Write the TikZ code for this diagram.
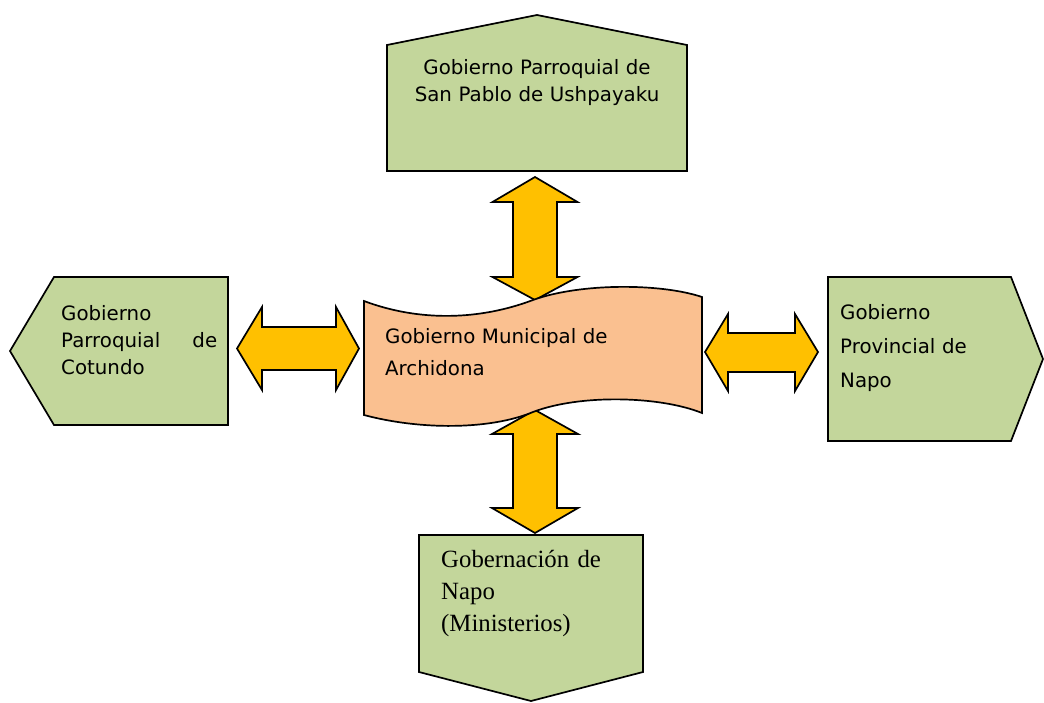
\documentclass[tikz,border=0pt]{standalone}
\usepackage{fontspec}
\setmainfont{Liberation Serif}
\newfontfamily\boxfont{DejaVu Sans}

\definecolor{boxgreen}{HTML}{C3D69B}
\definecolor{wavepeach}{HTML}{FAC090}
\definecolor{arrowyellow}{HTML}{FFC000}

\begin{document}
\begin{tikzpicture}[x=1pt, y=-1pt,
  govbox/.style={draw=black, fill=boxgreen, line width=1.7pt},
  yellowarrow/.style={draw=black, fill=arrowyellow, line width=1.7pt},
  sanstext/.style={font=\boxfont\fontsize{19.8}{27}\selectfont, inner sep=0pt},
  seriftext/.style={font=\fontsize{24.8}{32}\selectfont, inner sep=0pt, align=left}]
  \useasboundingbox (0,0) rectangle (1044,702);

  % Double arrows
  \draw[yellowarrow] (535,177) -- (577.5,202) -- (557,202) -- (557,277) -- (577.5,277)
    -- (535,300) -- (492.5,277) -- (513,277) -- (513,202) -- (492.5,202) -- cycle;
  \draw[yellowarrow] (535,410) -- (578,434) -- (557,434) -- (557,508) -- (578,508)
    -- (535,533) -- (492,508) -- (513,508) -- (513,434) -- (492,434) -- cycle;
  \draw[yellowarrow] (237,348.5) -- (262,307) -- (262,327) -- (336,327) -- (336,307)
    -- (359,348.5) -- (336,390) -- (336,370) -- (262,370) -- (262,390) -- cycle;
  \draw[yellowarrow] (705,352) -- (728,314) -- (728,333) -- (795,333) -- (795,314)
    -- (818,352) -- (795,391) -- (795,372) -- (728,372) -- (728,391) -- cycle;

  % Boxes
  \draw[govbox] (387,171) -- (387,45) -- (537,15) -- (687,45) -- (687,171) -- cycle;
  \draw[govbox] (228,277) -- (54,277) -- (10,351) -- (54,425) -- (228,425) -- cycle;
  \draw[govbox] (828,277) -- (1011,277) -- (1043,359) -- (1011,441) -- (828,441) -- cycle;
  \draw[govbox] (419,535) -- (643,535) -- (643,672) -- (531,701) -- (419,672) -- cycle;

  % Wave in the middle
  \draw[fill=wavepeach, line width=1.7pt]
    (364,301) .. controls (420,322) and (480,320) .. (533,300)
    .. controls (580,283) and (660,283) .. (702,297)
    -- (702,413)
    .. controls (660,396) and (580,394) .. (533,412)
    .. controls (490,430) and (420,430) .. (364,415) -- cycle;

  % Texts
  \node[sanstext, text width=300pt, align=center, anchor=base] (sanpablo) at (537,74)
    {Gobierno Parroquial de\\San Pablo de Ushpayaku};
  \node[sanstext, text width=156pt, align=left, anchor=base west] (cotundo) at (61,320)
    {Gobierno\\Parroquial\hfill de\\Cotundo};
  \node[sanstext, font=\boxfont\fontsize{19.8}{34}\selectfont, text width=170pt,
    align=left, anchor=base west] (provincial) at (840,319)
    {Gobierno\\Provincial de\\Napo};
  \node[sanstext, font=\boxfont\fontsize{19.8}{32}\selectfont, text width=300pt,
    align=left, anchor=base west] (archidona) at (385,343)
    {Gobierno Municipal de\\Archidona};
  \node[seriftext, text width=190pt, anchor=base west] (gobernacion) at (441,567)
    {Gobernación de\\Napo\\(Ministerios)};

\end{tikzpicture}
\end{document}
